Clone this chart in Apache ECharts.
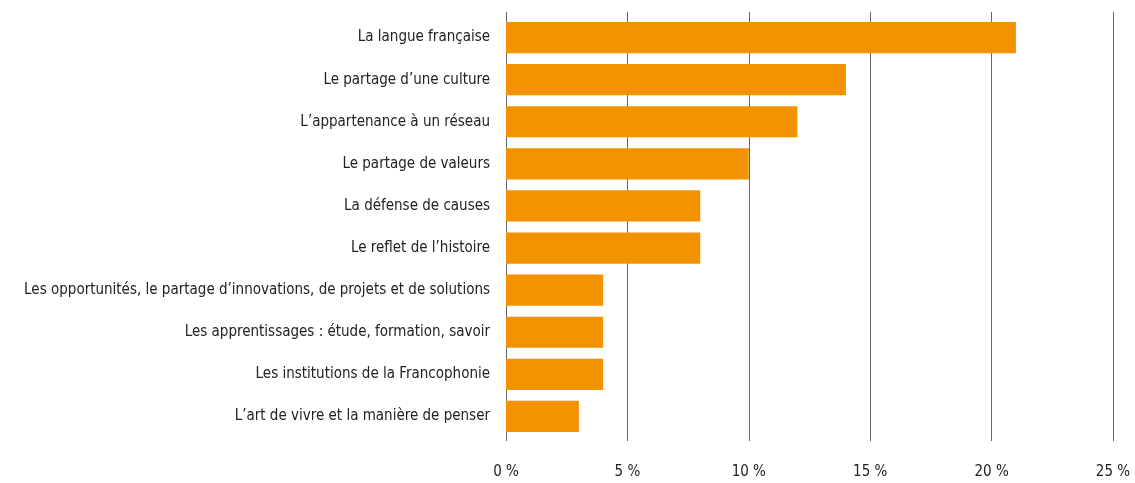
<!DOCTYPE html>
<html>
<head>
<meta charset="utf-8">
<script src="https://cdn.jsdelivr.net/npm/echarts@6/dist/echarts.min.js"></script>
<style>
  html, body { margin: 0; padding: 0; background: #fff; }
  #chart { width: 1135px; height: 483px; }
</style>
</head>
<body>
<div id="chart"></div>
<script>
  // categories top to bottom
  var categories = [
    "La langue française",
    "Le partage d’une culture",
    "L’appartenance à un réseau",
    "Le partage de valeurs",
    "La défense de causes",
    "Le reflet de l’histoire",
    "Les opportunités, le partage d’innovations, de projets et de solutions",
    "Les apprentissages : étude, formation, savoir",
    "Les institutions de la Francophonie",
    "L’art de vivre et la manière de penser"
  ];
  var values = [21, 14, 12, 10, 8, 8, 4, 4, 4, 3];
  var xTicks = [0, 5, 10, 15, 20, 25];

  var font = '"DejaVu Sans Condensed", "Liberation Sans", sans-serif';
  var myChart = echarts.init(document.getElementById('chart'));
  myChart.setOption({
    animation: false,
    grid: [
      // grid for the vertical lines and x labels
      { left: 506, right: 22, top: 12, bottom: 42 },
      // grid for the bars
      { left: 506, right: 22, top: 16.5, bottom: 45.5 }
    ],
    xAxis: [{
      gridIndex: 0,
      type: 'value',
      min: xTicks[0],
      max: xTicks[xTicks.length - 1],
      interval: 5,
      axisLine: { show: false },
      axisTick: { show: false },
      axisLabel: {
        margin: 24,
        color: '#222',
        fontSize: 15,
        fontFamily: font,
        formatter: function (v) { return v + ' %'; }
      },
      splitLine: { show: true, lineStyle: { color: '#666', width: 1 } }
    }, {
      gridIndex: 1,
      type: 'value',
      min: xTicks[0],
      max: xTicks[xTicks.length - 1],
      show: false
    }],
    yAxis: [{
      gridIndex: 0,
      type: 'category',
      data: categories,
      show: false
    }, {
      gridIndex: 1,
      type: 'category',
      inverse: true,
      data: categories,
      axisLine: { show: false },
      axisTick: { show: false },
      axisLabel: {
        margin: 16,
        color: '#222',
        fontSize: 15,
        fontFamily: font
      }
    }],
    series: [{
      type: 'bar',
      xAxisIndex: 1,
      yAxisIndex: 1,
      data: values,
      barCategoryGap: '26%',
      itemStyle: { color: '#F39200' }
    }]
  });
</script>
</body>
</html>
